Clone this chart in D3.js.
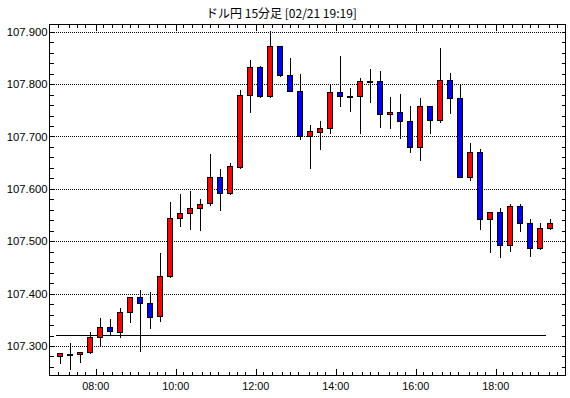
<!DOCTYPE html>
<html><head><meta charset="utf-8">
<script src="https://cdn.jsdelivr.net/npm/d3@7"></script>
<style>
html,body{margin:0;padding:0;background:#fff;}
svg{display:block;}
text{font-family:"Liberation Sans",Arial,sans-serif;fill:#000;}
</style></head>
<body>
<script>
// ---- data ----
const title = "ドル円 15分足 [02/21 19:19]";
const times = ["07:00","07:15","07:30","07:45","08:00","08:15","08:30","08:45","09:00","09:15",
  "09:30","09:45","10:00","10:15","10:30","10:45","11:00","11:15","11:30","11:45",
  "12:00","12:15","12:30","12:45","13:00","13:15","13:30","13:45","14:00","14:15",
  "14:30","14:45","15:00","15:15","15:30","15:45","16:00","16:15","16:30","16:45",
  "17:00","17:15","17:30","17:45","18:00","18:15","18:30","18:45","19:00","19:15"];
const open  = [107.280,107.285,107.284,107.288,107.317,107.336,107.327,107.364,107.393,107.382,
  107.357,107.433,107.544,107.553,107.563,107.573,107.623,107.592,107.642,107.780,
  107.832,107.778,107.872,107.817,107.786,107.700,107.709,107.717,107.784,107.778,
  107.777,107.806,107.806,107.743,107.746,107.729,107.679,107.758,107.731,107.807,
  107.773,107.622,107.670,107.542,107.555,107.492,107.567,107.534,107.487,107.525];
const high  = [107.287,107.306,107.289,107.326,107.354,107.351,107.372,107.394,107.407,107.403,
  107.477,107.574,107.591,107.595,107.580,107.667,107.637,107.650,107.788,107.846,
  107.834,107.901,107.873,107.850,107.819,107.721,107.729,107.800,107.854,107.792,
  107.812,107.829,107.825,107.775,107.781,107.758,107.773,107.758,107.869,107.821,
  107.801,107.688,107.676,107.556,107.564,107.571,107.571,107.543,107.534,107.542];
const low   = [107.268,107.256,107.270,107.287,107.300,107.321,107.317,107.346,107.291,107.334,
  107.348,107.431,107.530,107.524,107.522,107.569,107.559,107.590,107.640,107.747,
  107.776,107.776,107.816,107.786,107.695,107.640,107.677,107.707,107.759,107.749,
  107.706,107.765,107.719,107.717,107.698,107.670,107.656,107.707,107.728,107.744,
  107.622,107.616,107.523,107.480,107.469,107.482,107.520,107.471,107.486,107.524];
const close = [107.286,107.285,107.288,107.317,107.336,107.328,107.364,107.393,107.382,107.355,
  107.434,107.544,107.554,107.563,107.571,107.623,107.592,107.644,107.780,107.832,
  107.778,107.872,107.817,107.787,107.700,107.710,107.717,107.784,107.778,107.778,
  107.805,107.806,107.742,107.747,107.729,107.679,107.758,107.731,107.807,107.773,
  107.623,107.670,107.542,107.555,107.492,107.567,107.534,107.487,107.525,107.534];
const refLevel = 107.321;
const refStart = "07:00", refEnd = "19:15";
const xTickLabels = ["08:00","10:00","12:00","14:00","16:00","18:00"];
const yTickValues = [107.3,107.4,107.5,107.6,107.7,107.8,107.9];

// ---- layout ----
const W = 570, H = 398;
const L = 49.5, R = 565.5, T = 24.5, B = 375.5;
const parseT = s => { const [h,m] = s.split(":").map(Number); return new Date(2020,1,21,h,m); };
const x = d3.scaleTime().domain([parseT("08:00"), parseT("18:00")]).range([95.7, 495.7]);
const y = d3.scaleLinear().domain([107.3, 107.9]).range([346, 31.7]);

const svg = d3.select("body").append("svg").attr("width", W).attr("height", H);

// title
svg.append("text").attr("x", 281.5).attr("y", 17.5).attr("text-anchor","middle")
  .style("font-family", '"Noto Sans CJK JP","Liberation Sans",sans-serif')
  .style("font-size","12px").text(title);

// clip
svg.append("clipPath").attr("id","clip").append("rect")
  .attr("x", L).attr("y", T).attr("width", R-L).attr("height", B-T);
const plot = svg.append("g").attr("clip-path","url(#clip)");

// grid lines (dotted)
plot.selectAll("line.grid").data(yTickValues).join("line")
  .attr("x1", L).attr("x2", R)
  .attr("y1", d => Math.round(y(d)) + 0.5).attr("y2", d => Math.round(y(d)) + 0.5)
  .attr("stroke","#000").attr("stroke-width",1).attr("stroke-dasharray","1,1")
  .attr("shape-rendering","crispEdges");

// reference line
plot.append("line")
  .attr("x1", x(parseT(refStart))).attr("x2", x(parseT(refEnd)))
  .attr("y1", Math.round(y(refLevel)) + 0.5).attr("y2", Math.round(y(refLevel)) + 0.5)
  .attr("stroke","#000").attr("stroke-width",1).attr("shape-rendering","crispEdges");

// candles
const candles = times.map((t,i) => ({t, o:open[i], h:high[i], l:low[i], c:close[i]}));
const cx = d => Math.round(x(new Date(parseT(d.t).getTime() + 7.5*60000)) - 0.5);
const g = plot.append("g").attr("shape-rendering","crispEdges");
g.selectAll("line.wick").data(candles).join("line")
  .attr("x1", d => cx(d) + 0.5).attr("x2", d => cx(d) + 0.5)
  .attr("y1", d => Math.round(y(d.h))).attr("y2", d => Math.round(y(d.l)) + 1)
  .attr("stroke","#000").attr("stroke-width",1);
g.selectAll("rect.body").data(candles).join("rect")
  .attr("x", d => cx(d) - 2.5)
  .attr("width", 5)
  .attr("y", d => Math.round(y(Math.max(d.o,d.c))) + 0.5)
  .attr("height", d => Math.max(1, Math.round(y(Math.min(d.o,d.c))) - Math.round(y(Math.max(d.o,d.c)))))
  .attr("fill", d => d.c > d.o ? "#ff0000" : (d.c < d.o ? "#0000ff" : "#000"))
  .attr("stroke","#000").attr("stroke-width",1);

// frame
svg.append("rect").attr("x", L).attr("y", T).attr("width", R-L).attr("height", B-T)
  .attr("fill","none").attr("stroke","#000").attr("stroke-width",1)
  .attr("shape-rendering","crispEdges");

// y minor ticks (every 0.02) on left and right
const yMinor = d3.range(107.24, 107.92, 0.02).filter(v => y(v) > T && y(v) < B);
const axg = svg.append("g").attr("shape-rendering","crispEdges").attr("stroke","#000");
yMinor.forEach(v => {
  const yy = Math.round(y(v)) + 0.5;
  axg.append("line").attr("x1", L).attr("x2", L + 4).attr("y1", yy).attr("y2", yy);
  axg.append("line").attr("x1", R - 4).attr("x2", R).attr("y1", yy).attr("y2", yy);
});

// y labels
svg.selectAll("text.ylab").data(yTickValues).join("text")
  .attr("x", 47.5).attr("y", d => y(d) + 4.2).attr("text-anchor","end")
  .style("font-size","11.3px").text(d => d3.format(".3f")(d));

// x ticks: majors every 2h, minors at 11.5, 24 min and every 40 min
const minorOffsets = [0, 11.5, 24];
const xMinor = [];
for (let m = -80; m < 12*60; m += 40) {
  minorOffsets.forEach(o => {
    const d = new Date(parseT("08:00").getTime() + (m + o)*60000);
    const px = x(d);
    if (px > L + 1 && px < R - 1) xMinor.push(px);
  });
}
xMinor.forEach(px => {
  const xx = Math.round(px) + 0.5;
  axg.append("line").attr("x1", xx).attr("x2", xx).attr("y1", B).attr("y2", B - 3.5);
  axg.append("line").attr("x1", xx).attr("x2", xx).attr("y1", T).attr("y2", T + 3.5);
});
xTickLabels.forEach(s => {
  const xx = Math.round(x(parseT(s))) + 0.5;
  axg.append("line").attr("x1", xx).attr("x2", xx).attr("y1", B).attr("y2", B - 6.5);
  axg.append("line").attr("x1", xx).attr("x2", xx).attr("y1", T).attr("y2", T + 6.5);
});
svg.selectAll("text.xlab").data(xTickLabels).join("text")
  .attr("x", d => x(parseT(d))).attr("y", 389.5).attr("text-anchor","middle")
  .style("font-size","10.8px").text(d => d);
</script>
</body></html>
